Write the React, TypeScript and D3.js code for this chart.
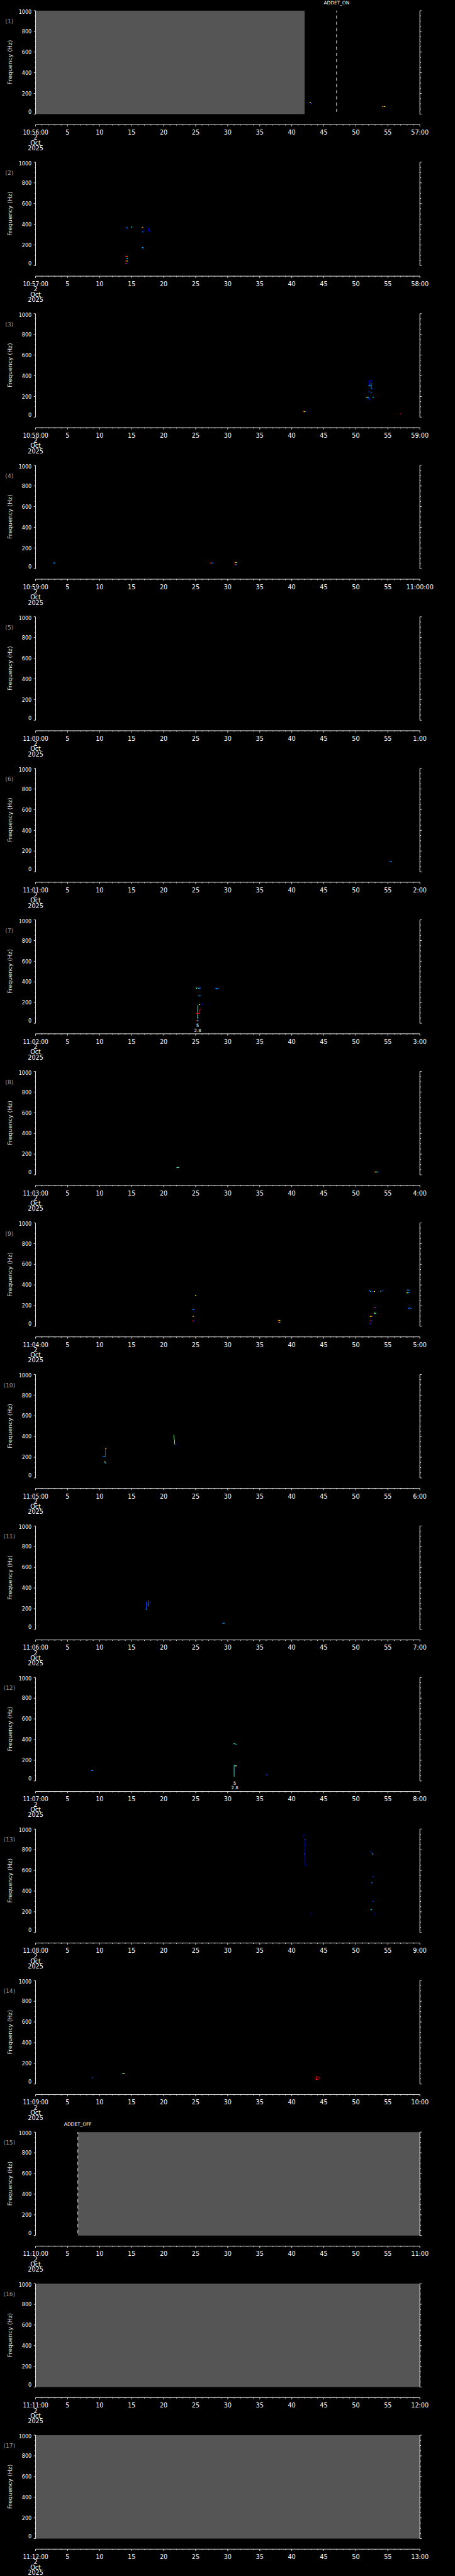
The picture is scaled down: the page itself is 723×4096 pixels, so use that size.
import React, { useEffect } from "react";
import * as d3 from "d3";

// reference size, drawn through the viewBox at 0.705
const W = 1024;
const H = 5802;
const PITCH = 341.3;
const PLOT_TOP = 24;
const PLOT_H = 233;
const AXIS_GAP = 256.7;
const X0 = 80;
const X1 = 945;

const panelStarts = [
  "10:56:00", "10:57:00", "10:58:00", "10:59:00", "11:00:00", "11:01:00",
  "11:02:00", "11:03:00", "11:04:00", "11:05:00", "11:06:00", "11:07:00",
  "11:08:00", "11:09:00", "11:10:00", "11:11:00", "11:12:00",
];
const panelEnds = [
  "57:00", "58:00", "59:00", "11:00:00", "1:00", "2:00", "3:00", "4:00",
  "5:00", "6:00", "7:00", "8:00", "9:00", "10:00", "11:00", "12:00", "13:00",
];
const dateLines = ["2", "Oct", "2025"];
const secondLabels = [5, 10, 15, 20, 25, 30, 35, 40, 45, 50, 55];
const freqLabels = [0, 200, 400, 600, 800, 1000];

// [seconds, Hz, colour]
type Blip = [number, number, string];
// [sec1, Hz1, sec2, Hz2, colour]
type Trace = [number, number, number, number, string];

const blips: Blip[][] = [
  [[42.8, 110, "#ffff00"], [43.0, 100, "#0040ff"], [54.1, 73, "#ff8000"], [54.4, 73, "#ffff00"]],
  [
    [14.0, 360, "#0000ff"], [14.2, 365, "#00c0ff"], [14.9, 373, "#00e0ff"], [16.6, 370, "#ffa000"],
    [16.6, 326, "#0080ff"], [17.8, 333, "#0000ff"], [16.6, 175, "#00c0ff"], [16.7, 170, "#0060ff"],
    [14.0, 90, "#ff0000"], [14.2, 90, "#ff8000"], [14.2, 68, "#00e0ff"], [14.0, 45, "#ff0000"],
    [14.2, 45, "#80ff00"], [14.0, 21, "#ff0000"], [14.2, 21, "#0040ff"],
  ],
  [
    [52.0, 303, "#00ffff"], [52.1, 308, "#0080ff"], [52.0, 245, "#0040ff"], [52.3, 240, "#0080ff"],
    [51.6, 193, "#ffc000"], [51.8, 193, "#00c0ff"], [52.6, 193, "#00e0ff"], [52.1, 171, "#0000ff"],
    [41.7, 54, "#ff2000"], [41.9, 54, "#ffff00"], [42.1, 54, "#0040ff"], [56.9, 33, "#c00000"],
  ],
  [
    [2.7, 55, "#0060ff"], [2.9, 55, "#00c0ff"], [27.2, 55, "#ff0000"], [27.4, 55, "#00c0ff"],
    [27.6, 55, "#0040ff"], [31.0, 60, "#c00000"], [31.2, 60, "#ffff40"], [31.0, 38, "#c00000"],
    [31.2, 38, "#00a0ff"],
  ],
  [],
  [[55.2, 98, "#0040ff"], [55.4, 98, "#00c0ff"]],
  [
    [25.0, 339, "#80ff80"], [25.2, 341, "#0060ff"], [25.4, 339, "#00e0ff"], [25.6, 341, "#0040ff"],
    [28.0, 338, "#0040ff"], [28.2, 335, "#00e0ff"], [28.4, 338, "#0060ff"], [25.4, 265, "#00c0ff"],
    [25.6, 265, "#0060ff"], [25.5, 180, "#ffff00"], [25.8, 184, "#0000ff"], [26.0, 184, "#0000c0"],
    [25.2, 51, "#00ffff"], [25.0, 25, "#ff0000"], [25.2, 25, "#00e0ff"], [25.4, 25, "#0000c0"],
  ],
  [
    [22.0, 70, "#00ffff"], [22.2, 72, "#80ff80"], [52.8, 27, "#ff0000"], [53.0, 27, "#ffff00"],
    [53.2, 27, "#00ff80"], [53.4, 27, "#0040ff"],
  ],
  [
    [52.0, 345, "#0080ff"], [52.2, 338, "#00c0ff"], [52.5, 338, "#0040ff"], [52.8, 338, "#ffff00"],
    [54.1, 346, "#0060ff"], [58.0, 350, "#00c0ff"], [58.2, 350, "#0080ff"], [57.9, 324, "#ffff00"],
    [58.1, 324, "#00c0ff"], [58.3, 327, "#0040ff"], [24.9, 298, "#c0ff00"], [24.5, 163, "#00c0ff"],
    [24.7, 160, "#0000ff"], [24.5, 96, "#ffc000"], [24.5, 53, "#ff2000"], [24.7, 53, "#0000ff"],
    [37.8, 57, "#ff4000"], [38.0, 57, "#ffff00"], [37.8, 36, "#c00000"], [38.0, 36, "#00ffff"],
    [52.8, 184, "#ff2000"], [53.0, 180, "#0040ff"], [52.8, 128, "#ffff00"], [53.0, 126, "#00ffc0"],
    [52.2, 96, "#ffff00"], [52.4, 96, "#ff4000"], [52.2, 53, "#ff2000"], [52.4, 53, "#0040ff"],
    [52.2, 28, "#0040ff"], [58.1, 173, "#0060ff"], [58.3, 178, "#0080ff"], [58.5, 173, "#0060ff"],
  ],
  [[10.9, 286, "#ffa000"], [10.4, 208, "#0040ff"], [10.7, 155, "#ffff00"], [10.8, 145, "#00e0ff"], [21.8, 325, "#0040ff"]],
  [
    [17.2, 195, "#00c0ff"], [17.8, 260, "#0040ff"], [17.5, 240, "#0060ff"], [29.1, 60, "#0040ff"],
    [29.3, 60, "#00c0ff"],
  ],
  [
    [8.6, 100, "#0040ff"], [8.8, 100, "#00c0ff"], [30.9, 360, "#00ff80"], [31.2, 355, "#00c0ff"],
    [31.0, 150, "#00e0ff"], [31.2, 145, "#ffff00"], [36.0, 60, "#0040ff"],
  ],
  [
    [41.8, 940, "#0000ff"], [42.0, 900, "#0040ff"], [42.1, 850, "#0000c0"], [41.9, 760, "#0040ff"],
    [42.2, 650, "#0000ff"], [43.0, 180, "#0000c0"], [52.3, 780, "#0040ff"], [52.5, 760, "#00c0ff"],
    [52.6, 540, "#0040ff"], [52.4, 480, "#0080ff"], [52.6, 300, "#0040ff"], [52.3, 220, "#00e0ff"],
    [52.8, 180, "#0000ff"],
  ],
  [
    [43.8, 45, "#ff0000"], [44.0, 45, "#c00000"], [44.2, 60, "#ff0000"], [13.5, 100, "#00c0ff"],
    [13.7, 100, "#ffff00"], [8.8, 60, "#0040ff"],
  ],
  [],
  [],
  [],
];

const traces: Trace[][] = [
  [],
  [[17.7, 331, 17.7, 365, "#0000ff"], [16.8, 326, 16.9, 342, "#0000ff"]],
  [
    [52.1, 307, 52.1, 354, "#0000ff"], [52.1, 354, 52.5, 354, "#0000ff"], [52.5, 354, 52.5, 340, "#0000ff"],
    [52.4, 329, 52.4, 274, "#00c0ff"], [52.4, 274, 52.7, 274, "#0040ff"], [51.9, 193, 51.9, 180, "#00c0ff"],
    [52.1, 190, 52.1, 171, "#0040ff"],
  ],
  [],
  [],
  [],
  [
    [25.3, 51, 25.3, 176, "#40e0d0"], [25.6, 96, 25.6, 133, "#ff0000"], [25.6, 133, 25.9, 133, "#ff0000"],
    [25.0, 96, 25.6, 96, "#ff0000"],
  ],
  [],
  [[53.9, 332, 53.9, 346, "#00e0ff"]],
  [
    [10.9, 206, 10.9, 286, "#0050ff"], [10.6, 206, 10.9, 206, "#00e0ff"], [21.6, 372, 21.6, 415, "#80ff80"],
    [21.7, 325, 21.7, 372, "#c0ff40"],
  ],
  [[17.3, 200, 17.3, 270, "#0040ff"], [17.6, 220, 17.6, 280, "#0080ff"]],
  [[31.0, 40, 31.0, 150, "#40e0d0"]],
  [[42.0, 650, 42.0, 900, "#0000c0"]],
  [[43.8, 40, 43.8, 70, "#ff0000"], [43.8, 70, 44.2, 70, "#ff0000"]],
  [],
  [],
  [],
];

// seconds covered by grey (no data)
const grayBlocks: [number, number][][] = [
  [[0, 42]], [], [], [], [], [], [], [], [], [], [], [], [], [], [[6.6, 60]], [[0, 60]], [[0, 60]],
];

const eventPanels = [0, 14];
const eventSeconds = [47, 6.6];
const eventNames = ["ADDET_ON", "ADDET_OFF"];

const notePanels = [6, 11];
const noteSeconds = [25.3, 31.1];
const noteTexts = [["5", "2.8"], ["5", "2.8"]];

const FONT = "'DejaVu Sans', sans-serif";

function Panel({ i }: { i: number }) {
  const top = PLOT_TOP + i * PITCH;
  const bottom = top + PLOT_H;
  const axisY = top + AXIS_GAP;
  const x = d3.scaleLinear().domain([0, 60]).range([X0, X1]);
  const y = d3.scaleLinear().domain([0, 1000]).range([bottom, top]);
  const minorSec = d3.range(0, 61, 1);
  const minorHz = d3.range(0, 1001, 50);
  const ev = eventPanels.indexOf(i);
  const nt = notePanels.indexOf(i);

  return (
    <g>
      {grayBlocks[i].map(([a, b], k) => (
        <rect key={"g" + k} x={x(a)} y={y(1000)} width={x(b) - x(a)} height={y(0) - y(1000)} fill="#555555" />
      ))}
      {traces[i].map(([t1, f1, t2, f2, c], k) => (
        <line key={"t" + k} x1={x(t1)} y1={y(f1)} x2={x(t2)} y2={y(f2)} stroke={c} strokeWidth={1.4} />
      ))}
      {blips[i].map(([t, f, c], k) => (
        <rect key={"b" + k} x={x(t)} y={y(f + 4)} width={x(t + 0.2) - x(t)} height={y(f - 4) - y(f + 4)} fill={c} />
      ))}

      {ev >= 0 && (
        <g>
          <line x1={x(eventSeconds[ev])} x2={x(eventSeconds[ev])} y1={y(1000)} y2={y(0)}
            stroke="#fff" strokeWidth={1.3} strokeDasharray="7 7" strokeDashoffset={3} />
          <text x={x(eventSeconds[ev])} y={top - 18} textAnchor="middle" dominantBaseline="central"
            fill="#fff" fontSize={10.5} fontFamily={FONT}>{eventNames[ev]}</text>
        </g>
      )}

      {nt >= 0 && noteTexts[nt].map((s, k) => (
        <text key={"n" + k} x={x(noteSeconds[nt])} y={bottom + 5.5 + k * 10} textAnchor="middle"
          dominantBaseline="central" fill="#fff" fontSize={10} fontFamily={FONT}>{s}</text>
      ))}

      {/* left axis */}
      <line x1={X0} x2={X0} y1={top} y2={bottom} stroke="#fff" strokeWidth={1.3} />
      {minorHz.map((f) => (
        <line key={"l" + f} x1={X0 - (f % 200 === 0 ? 4 : 2)} x2={X0} y1={y(f)} y2={y(f)} stroke="#fff" strokeWidth={1.2} />
      ))}
      {freqLabels.map((f) => (
        <text key={"yl" + f} x={71} y={y(f) + (f === 1000 ? 3.5 : f === 0 ? -4.5 : 1)} textAnchor="end"
          dominantBaseline="central" fill="#fff" fontSize={11.4} fontFamily={FONT}>{f}</text>
      ))}
      {/* right axis */}
      <line x1={X1} x2={X1} y1={top} y2={bottom} stroke="#fff" strokeWidth={1.3} />
      {minorHz.map((f) => (
        <line key={"r" + f} x1={X1} x2={X1 + (f % 200 === 0 ? 4 : 2.7)} y1={y(f)} y2={y(f)} stroke="#fff" strokeWidth={1.2} />
      ))}

      <text x={21} y={top + 23.5} textAnchor="middle" dominantBaseline="central" fill="#9a9a9a"
        fontSize={13} fontFamily={FONT}>({i + 1})</text>
      <text transform={`translate(23,${top + 116}) rotate(-90)`} textAnchor="middle" dominantBaseline="central"
        fill="#e6e6e6" fontSize={12.5} fontFamily={FONT} textLength={100} lengthAdjust="spacingAndGlyphs">
        Frequency (Hz)
      </text>

      {/* time axis */}
      <line x1={X0} x2={X1} y1={axisY} y2={axisY} stroke="#fff" strokeWidth={1.3} />
      {minorSec.map((s) => (
        <line key={"x" + s} x1={x(s)} x2={x(s)} y1={axisY} y2={axisY + (s % 5 === 0 ? 4 : 2)} stroke="#fff" strokeWidth={1.2} />
      ))}
      <text x={x(0)} y={axisY + 17.5} textAnchor="middle" dominantBaseline="central" fill="#fff"
        fontSize={13.7} fontFamily={FONT} textLength={57} lengthAdjust="spacingAndGlyphs">{panelStarts[i]}</text>
      {secondLabels.map((s) => (
        <text key={"xl" + s} x={x(s)} y={axisY + 17.5} textAnchor="middle" dominantBaseline="central"
          fill="#fff" fontSize={13.7} fontFamily={FONT}>{s}</text>
      ))}
      <text x={x(60)} y={axisY + 17.5} textAnchor="middle" dominantBaseline="central" fill="#fff"
        fontSize={13.7} fontFamily={FONT}>{panelEnds[i]}</text>
      {dateLines.map((s, k) => (
        <text key={"d" + k} x={x(0)} y={axisY + 29.3 + k * 11.7} textAnchor="middle" dominantBaseline="central"
          fill="#fff" fontSize={13.7} fontFamily={FONT}>{s}</text>
      ))}
    </g>
  );
}

export default function App() {
  useEffect(() => {
    document.body.style.margin = "0";
    document.body.style.background = "#000";
  }, []);

  return (
    <svg width={723} height={4096} viewBox={`0 0 ${W} ${H}`}
      style={{ display: "block", position: "absolute", left: 0, top: 0, background: "#000" }}>
      <rect x={0} y={0} width={W} height={H} fill="#000" />
      {panelStarts.map((_, i) => (
        <Panel key={i} i={i} />
      ))}
    </svg>
  );
}
